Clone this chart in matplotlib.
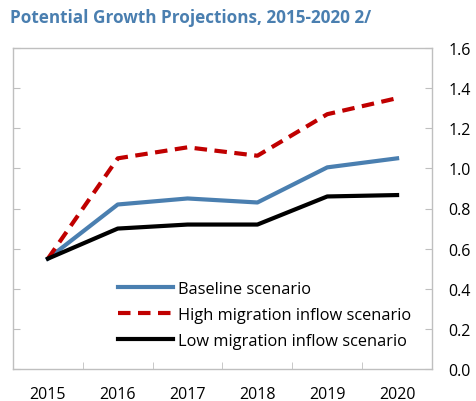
import matplotlib.pyplot as plt
import numpy as np

plt.rcParams['font.family'] = ['Open Sans', 'DejaVu Sans']

years = ["2015", "2016", "2017", "2018", "2019", "2020"]
baseline = [0.55, 0.82, 0.85, 0.83, 1.005, 1.05]
high_inflow = [0.55, 1.05, 1.105, 1.063, 1.27, 1.35]
low_inflow = [0.55, 0.70, 0.72, 0.72, 0.86, 0.867]

fig = plt.figure(figsize=[4.77, 4.02], dpi=100)
ax = fig.add_axes([13 / 477, 1 - 370 / 402, 419 / 477, 321 / 402])

x = np.arange(len(years))
ax.plot(x, baseline, color='#4a7fb0', linewidth=3, label="Baseline scenario")
ax.plot(x, high_inflow, color='#c00000', linewidth=3, linestyle=(0, (3, 1.8)),
        label="High migration inflow scenario")
ax.plot(x, low_inflow, color='black', linewidth=3, label="Low migration inflow scenario")

ax.set_xlim(-0.5, 5.5)
ax.set_ylim(0, 1.6)

# category labels centred, ticks on the boundaries
ax.set_xticks(x)
ax.set_xticklabels(years, fontsize=11.5)
ax.tick_params(axis='x', length=0, pad=12)
ax.set_xticks(np.arange(0.5, 5.0, 1.0), minor=True)
ax.tick_params(axis='x', which='minor', direction='in', length=5, color='#bfbfbf')

ax.set_yticks(np.arange(0, 1.61, 0.2))
ax.set_yticklabels(["%.1f" % v for v in np.arange(0, 1.61, 0.2)], fontsize=11.5)
ax.yaxis.tick_right()
ax.tick_params(axis='y', which='major', direction='in', length=5, color='#bfbfbf',
               left=True, right=True, labelleft=False, labelright=True, pad=12)

for s in ax.spines.values():
    s.set_color('#bfbfbf')
    s.set_linewidth(1)

ax.legend(loc='upper left', bbox_to_anchor=(0.25, 0.274), frameon=False, fontsize=11.8,
          handlelength=3.4, handletextpad=0.3, labelspacing=0.6, borderaxespad=0,
          borderpad=0)

fig.text(10 / 477, 1 - 18 / 402, "Potential Growth Projections, 2015-2020 2/",
         fontsize=12.3, fontweight='bold', color='#4a7fb0', va='center', ha='left')

fig.savefig("out.png", dpi=100)
